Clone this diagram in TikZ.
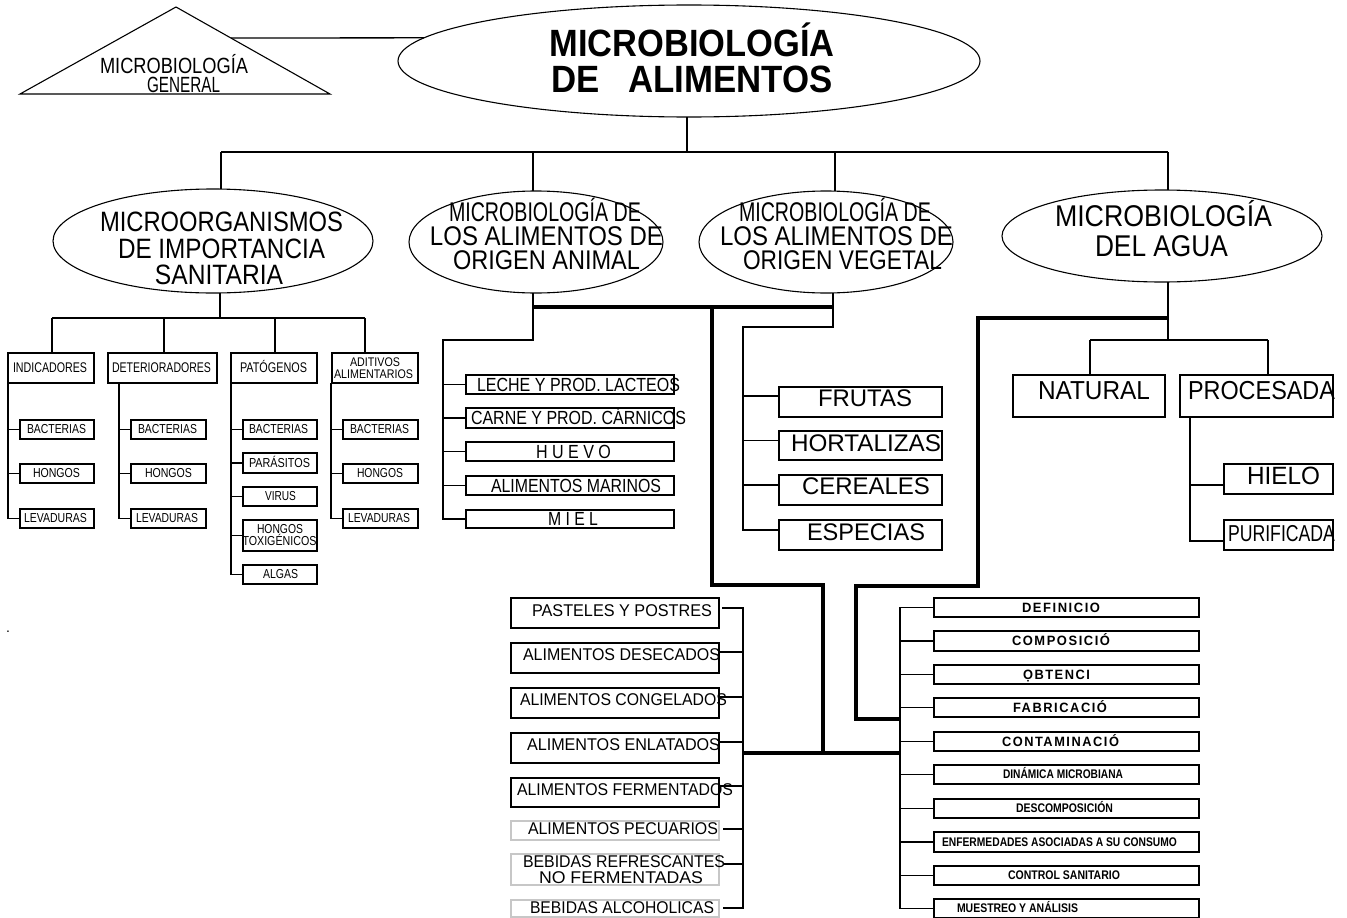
\documentclass[tikz,border=0pt]{standalone}
\usepackage{fontspec}
\setmainfont{Liberation Sans}
\newfontfamily\spacedfont{Liberation Sans}[LetterSpace=12]
\usepackage{graphicx}
\usetikzlibrary{shapes.geometric,calc}
% text line: x-offset, raise, width, text
\newcommand\Tsh[4]{\makebox[0pt]{\hspace*{#1pt}\hspace*{#1pt}\vphantom{H}\smash{\raisebox{#2pt}{\resizebox{#3pt}{\height}{#4}}}}}
% box from corners
\newcommand\BX[7][]{\node[bx,#1,minimum width={#5-#3},minimum height={#6-#4}] (#2) at ({(#3+#5)/2},{(#4+#6)/2}) {#7};}
\tikzset{
  ln/.style={line width=1.3pt},
  thk/.style={line width=4.6pt},
  ell/.style={draw, ellipse, line width=1.1pt, inner sep=0pt, outer sep=0pt},
  bx/.style={draw, rectangle, line width=1.3pt, inner sep=0pt, outer sep=0pt, align=center},
  txt/.style={inner sep=0pt, outer sep=0pt, align=center},
  gry/.style={draw=black!22},
}
\begin{document}
\begin{tikzpicture}[x=1pt,y=-1pt]
\useasboundingbox (0,0) rectangle (1347,918);
\fill[white] (0,0) rectangle (1347,918);

% ---------- title ----------
\node[ell, minimum width=582, minimum height=112] (title) at (689,61) {};
\node[txt, font=\bfseries\fontsize{38}{36}\selectfont] (titlet) at (692,61.6)
  {\Tsh{0}{0}{285}{MICROBIOLOGÍA}\\\Tsh{0}{0}{281}{DE\hspace{31pt}ALIMENTOS}};

% ---------- triangle ----------
\coordinate (ta) at (20,94);
\coordinate (tb) at (176,7);
\coordinate (tc) at (330,94);
\draw[ln, line width=1.1pt] (ta) -- (tb) -- (tc) -- cycle;
\node[txt, font=\fontsize{22}{19}\selectfont] (gen) at (176,75.5)
  {\Tsh{-2}{0}{148}{MICROBIOLOGÍA}\\\Tsh{7.5}{0}{73}{GENERAL}};
\coordinate (gc) at (231,38);
\draw[ln] (gc) -- (title.175);

% ---------- level 2 ellipses ----------
\node[ell, minimum width=320, minimum height=104] (e1) at (213,241) {};
\node[ell, minimum width=254, minimum height=102] (e2) at (536,242) {};
\node[ell, minimum width=254, minimum height=102] (e3) at (826,242) {};
\node[ell, minimum width=320, minimum height=92] (e4) at (1162,236) {};

\node[txt, font=\fontsize{28}{26.5}\selectfont] (e1t) at (221,248.5)
  {\Tsh{0.5}{0}{243}{MICROORGANISMOS}\\\Tsh{0.5}{0}{207}{DE IMPORTANCIA}\\\Tsh{-2}{0}{128}{SANITARIA}};
\node[txt, font=\fontsize{27}{24}\selectfont] (e2t) at (546,236.5)
  {\Tsh{-1}{0}{192}{MICROBIOLOGÍA DE}\\\Tsh{0.5}{0}{233}{LOS ALIMENTOS DE}\\\Tsh{0.5}{0}{187}{ORIGEN ANIMAL}};
\node[txt, font=\fontsize{27}{24}\selectfont] (e3t) at (836,236.5)
  {\Tsh{-1}{0}{192}{MICROBIOLOGÍA DE}\\\Tsh{0.5}{0}{233}{LOS ALIMENTOS DE}\\\Tsh{6.5}{0}{199}{ORIGEN VEGETAL}};
\node[txt, font=\fontsize{30}{30}\selectfont] (e4t) at (1163,231)
  {\Tsh{0.5}{0}{217}{MICROBIOLOGÍA}\\\Tsh{-1.5}{0}{133}{DEL AGUA}};

% ---------- level 1 connectors ----------
\coordinate (v0) at (687,152);
\coordinate (v1) at (221,152);
\coordinate (v2) at (533,152);
\coordinate (v3) at (835,152);
\coordinate (v4) at (1168,152);
\draw[ln] (v0 |- title.south) -- (v0);
\draw[ln] (v1) -- (v4);
\draw[ln] (v1) -- (v1 |- e1.north);
\draw[ln] (v2) -- (v2 |- e2.north);
\draw[ln] (v3) -- (v3 |- e3.north);
\draw[ln] (v4) -- (v4 |- e4.north);

% ---------- microorganismos ----------
\BX[font=\fontsize{14}{14}\selectfont]{ind}{8}{353}{94}{383}{\Tsh{-1}{0}{74}{INDICADORES}}
\BX[font=\fontsize{14}{14}\selectfont]{det}{108}{353}{217}{383}{\Tsh{-1}{0}{99}{DETERIORADORES}}
\BX[font=\fontsize{14}{14}\selectfont]{pat}{231}{353}{317}{383}{\Tsh{-0.5}{0}{67}{PATÓGENOS}}
\BX[font=\fontsize{12.5}{12.5}\selectfont]{adi}{332}{353}{418}{383}{\Tsh{0}{0}{50}{ADITIVOS}\\\Tsh{-1.5}{0}{79}{ALIMENTARIOS}}

\coordinate (m0) at (220,318);
\coordinate (mL) at (52,318);
\coordinate (mD) at (164,318);
\coordinate (mP) at (275,318);
\coordinate (mR) at (365,318);
\draw[ln] (m0 |- e1.south) -- (m0);
\draw[ln] (mL) -- (mR);
\draw[ln] (mL) -- (mL |- ind.north);
\draw[ln] (mD) -- (mD |- det.north);
\draw[ln] (mP) -- (mP |- pat.north);
\draw[ln] (mR) -- (mR |- adi.north);

\tikzset{sm/.style={font=\fontsize{13}{13}\selectfont}}
\BX[sm]{ib}{20}{420}{94}{439}{\Tsh{-0.5}{0}{59}{BACTERIAS}}
\BX[sm]{ih}{20}{464}{94}{483}{\Tsh{-0.5}{0}{47}{HONGOS}}
\BX[sm]{il}{20}{509}{94}{528}{\Tsh{-1.5}{0}{63}{LEVADURAS}}
\BX[sm]{db}{131}{420}{206}{439}{\Tsh{-1}{0}{59}{BACTERIAS}}
\BX[sm]{dh}{131}{464}{206}{483}{\Tsh{0}{0}{47}{HONGOS}}
\BX[sm]{dl}{131}{509}{206}{528}{\Tsh{-1.5}{0}{62}{LEVADURAS}}
\BX[sm]{pb}{243}{420}{317}{439}{\Tsh{-1.5}{0}{59}{BACTERIAS}}
\BX[sm]{pp}{243}{453}{317}{473}{\Tsh{-0.5}{0}{61}{PARÁSITOS}}
\BX[sm]{pvi}{243}{487}{317}{506}{\Tsh{0.5}{0}{31}{VIRUS}}
\BX[font=\fontsize{13}{12}\selectfont]{ptx}{243}{520}{317}{551}{\Tsh{0}{0}{46}{HONGOS}\\\Tsh{-0.5}{0}{74}{TOXIGÉNICOS}}
\BX[sm]{pa}{243}{565}{317}{584}{\Tsh{0.5}{0}{35}{ALGAS}}
\BX[sm]{adb}{343}{420}{418}{439}{\Tsh{-1}{0}{59}{BACTERIAS}}
\BX[sm]{adh}{343}{464}{418}{483}{\Tsh{-0.5}{0}{46}{HONGOS}}
\BX[sm]{adl}{343}{509}{418}{528}{\Tsh{-1.5}{0}{62}{LEVADURAS}}

\draw[ln] (ind.south west) -- (ind.south west |- il.west) -- (il.west);
\draw[ln] (ind.south west |- ib.west) -- (ib.west);
\draw[ln] (ind.south west |- ih.west) -- (ih.west);
\coordinate (dv) at (119,383);
\draw[ln] (dv) -- (dv |- dl.west) -- (dl.west);
\draw[ln] (dv |- db.west) -- (db.west);
\draw[ln] (dv |- dh.west) -- (dh.west);
\draw[ln] (pat.south west) -- (pat.south west |- pa.west) -- (pa.west);
\draw[ln] (pat.south west |- pb.west) -- (pb.west);
\draw[ln] (pat.south west |- pp.west) -- (pp.west);
\draw[ln] (pat.south west |- pvi.west) -- (pvi.west);
\draw[ln] (pat.south west |- ptx.west) -- (ptx.west);
\coordinate (av) at (331,383);
\draw[ln] (av) -- (av |- adl.west) -- (adl.west);
\draw[ln] (av |- adb.west) -- (adb.west);
\draw[ln] (av |- adh.west) -- (adh.west);

% ---------- origen animal ----------
\tikzset{an/.style={font=\fontsize{19}{19}\selectfont}}
\BX[an]{al1}{466}{375}{674}{394}{\Tsh{8.5}{0}{203}{LECHE Y PROD. LACTEOS}}
\BX[an]{al2}{466}{408}{674}{428}{\Tsh{8.5}{0}{215}{CARNE Y PROD. CÁRNICOS}}
\BX[an]{al3}{466}{442}{674}{461}{\Tsh{3.5}{0}{75}{H U E V O}}
\BX[an]{al4}{466}{476}{674}{495}{\Tsh{6}{0}{170}{ALIMENTOS MARINOS}}
\BX[an]{al5}{466}{510}{674}{528}{\Tsh{3}{0}{50}{M I E L}}
\coordinate (a0) at (533,340);
\coordinate (a1) at (443,340);
\draw[ln] (a0 |- e2.south) -- (a0) -- (a1) -- (a1 |- al5.west) -- (al5.west);
\draw[ln] (a1 |- al1.west) -- (al1.west);
\draw[ln] (a1 |- al2.west) -- (al2.west);
\draw[ln] (a1 |- al3.west) -- (al3.west);
\draw[ln] (a1 |- al4.west) -- (al4.west);

% ---------- origen vegetal ----------
\tikzset{vg/.style={font=\fontsize{24}{24}\selectfont}}
\BX[vg]{fru}{779}{387}{942}{417}{\Tsh{4.5}{4}{94}{FRUTAS}}
\BX[vg]{hor}{779}{431}{942}{460}{\Tsh{5.5}{2}{150}{HORTALIZAS}}
\BX[vg]{cer}{779}{475}{942}{505}{\Tsh{5.5}{3.5}{128}{CEREALES}}
\BX[vg]{esp}{779}{520}{942}{550}{\Tsh{5.5}{3}{118}{ESPECIAS}}
\path ($(fru.west)+(0,-6)$) coordinate (fruT);
\path ($(hor.west)+(0,-5)$) coordinate (horT);
\path ($(cer.west)+(0,-5)$) coordinate (cerT);
\path ($(esp.west)+(0,-5)$) coordinate (espT);
\coordinate (g0) at (833,327);
\coordinate (g1) at (743,327);
\draw[ln] (g0 |- e3.south) -- (g0) -- (g1) -- (g1 |- espT) -- (espT);
\draw[ln] (g1 |- fruT) -- (fruT);
\draw[ln] (g1 |- horT) -- (horT);
\draw[ln] (g1 |- cerT) -- (cerT);

% ---------- agua ----------
\BX[font=\fontsize{26}{26}\selectfont]{nat}{1013}{375}{1165}{417}{\Tsh{5}{5}{112}{NATURAL}}
\BX[font=\fontsize{26}{26}\selectfont]{pro}{1180}{375}{1333}{417}{\Tsh{5}{5}{147}{PROCESADA}}
\BX[font=\fontsize{25}{25}\selectfont]{hie}{1224}{464}{1333}{494}{\Tsh{5}{3}{73}{HIELO}}
\BX[font=\fontsize{23}{23}\selectfont]{pur}{1224}{520}{1333}{550}{\Tsh{3}{1.5}{107}{PURIFICADA}}
\coordinate (w0) at (1168,340);
\coordinate (wL) at (1090,340);
\coordinate (wR) at (1268,340);
\draw[ln] (w0 |- e4.south) -- (w0);
\draw[ln] (wL) -- (wR);
\draw[ln] (wL) -- (wL |- nat.north);
\draw[ln] (wR) -- (wR |- pro.north);
\path ($(hie.west)+(0,6)$) coordinate (hieT);
\path ($(pur.west)+(0,6)$) coordinate (purT);
\coordinate (prv) at (1190,417);
\draw[ln] (prv) -- (prv |- purT) -- (purT);
\draw[ln] (prv |- hieT) -- (hieT);

% ---------- thick connectors ----------
\coordinate (k1) at (533,307);
\coordinate (k2) at (833,307);
\coordinate (k3) at (712,307);
\coordinate (k4) at (712,585);
\coordinate (k5) at (823,585);
\coordinate (k6) at (823,753);
\coordinate (k7) at (743,753);
\coordinate (k8) at (900,753);
\draw[thk] (k1) -- (k2);
\draw[thk] (k3) -- (k4) -- (k5) -- (k6);
\draw[thk] (k7) -- (k8);
\coordinate (q1) at (1168,318);
\coordinate (q2) at (978,318);
\coordinate (q3) at (978,586);
\coordinate (q4) at (856,586);
\coordinate (q5) at (856,719);
\coordinate (q6) at (900,719);
\draw[thk] (q1) -- (q2) -- (q3) -- (q4) -- (q5) -- (q6);

% ---------- bottom left list ----------
\tikzset{bl/.style={font=\fontsize{17}{15.5}\selectfont}}
\BX[bl]{p1}{511}{598}{719}{628}{\Tsh{7}{2}{180}{PASTELES Y POSTRES}}
\BX[bl]{p2}{511}{643}{719}{673}{\Tsh{6.5}{3}{197}{ALIMENTOS DESECADOS}}
\BX[bl]{p3}{511}{688}{719}{718}{\Tsh{8.5}{3}{207}{ALIMENTOS CONGELADOS}}
\BX[bl]{p4}{511}{733}{719}{763}{\Tsh{8.5}{3}{193}{ALIMENTOS ENLATADOS}}
\BX[bl]{p5}{511}{778}{719}{807}{\Tsh{10}{3}{216}{ALIMENTOS FERMENTADOS}}
\BX[bl,gry]{p6}{511}{821}{719}{840}{\Tsh{8}{1.5}{190}{ALIMENTOS PECUARIOS}}
\BX[bl,gry]{p7}{511}{854}{719}{885}{\Tsh{9}{0}{202}{BEBIDAS REFRESCANTES}\\\Tsh{6}{0}{164}{NO FERMENTADAS}}
\BX[bl,gry]{p8}{511}{900}{719}{917}{\Tsh{7}{1}{184}{BEBIDAS ALCOHOLICAS}}
\path ($(p1.east)+(3,-5)$) coordinate (p1T);
\path ($(p2.east)+(0,-6)$) coordinate (p2T);
\path ($(p3.east)+(0,-6)$) coordinate (p3T);
\path ($(p4.east)+(0,-6)$) coordinate (p4T);
\path ($(p5.east)+(0,-6.5)$) coordinate (p5T);
\path ($(p6.east)+(4,-1.5)$) coordinate (p6T);
\path ($(p7.east)+(4,-5.5)$) coordinate (p7T);
\path ($(p8.east)+(4,-0.5)$) coordinate (p8T);
\draw[ln] (p1T) -- (k7 |- p1T) -- (k7 |- p8T) -- (p8T);
\foreach \p in {p2T,p3T,p4T,p5T,p6T,p7T}{\draw[ln] (\p) -- (k7 |- \p);}

% ---------- bottom right list ----------
\tikzset{sp/.style={font=\spacedfont\bfseries\fontsize{13.5}{13.5}\selectfont},
         bd/.style={font=\bfseries\fontsize{12.5}{12.5}\selectfont}}
\BX[sp]{r1}{934}{598}{1199}{617}{\Tsh{-5.5}{0}{78}{DEFINICIO}}
\BX[sp]{r2}{934}{631}{1199}{651}{\Tsh{-5.5}{0}{98}{COMPOSICIÓ}}
\BX[sp]{r3}{934}{665}{1199}{684}{\Tsh{-10}{0}{67}{ỌBTENCI}}
\BX[sp]{r4}{934}{698}{1199}{717}{\Tsh{-6.5}{0}{94}{FABRICACIÓ}}
\BX[sp]{r5}{934}{732}{1199}{751}{\Tsh{-6}{0}{117}{CONTAMINACIÓ}}
\BX[bd]{r6}{934}{765}{1199}{784}{\Tsh{-3.5}{0}{120}{DINÁMICA MICROBIANA}}
\BX[bd]{r7}{934}{799}{1199}{818}{\Tsh{-2}{0}{97}{DESCOMPOSICIÓN}}
\BX[bd]{r8}{934}{832}{1199}{852}{\Tsh{-7}{0}{235}{ENFERMEDADES ASOCIADAS A SU CONSUMO}}
\BX[bd]{r9}{934}{866}{1199}{885}{\Tsh{-2.5}{0}{112}{CONTROL SANITARIO}}
\BX[bd]{r10}{934}{899}{1199}{918}{\Tsh{-49}{0}{121}{MUESTREO Y ANÁLISIS}}
\draw[ln] (r1.west) -- (k8 |- r1.west) -- (k8 |- r10.west) -- (r10.west);
\foreach \r in {r2,r3,r4,r5,r6,r7,r8,r9}{\draw[ln] (\r.west) -- (k8 |- \r.west);}

% stray dot
\node[inner sep=0pt, font=\fontsize{14}{14}\selectfont] (dot) at (8,632) {.};
\end{tikzpicture}
\end{document}
